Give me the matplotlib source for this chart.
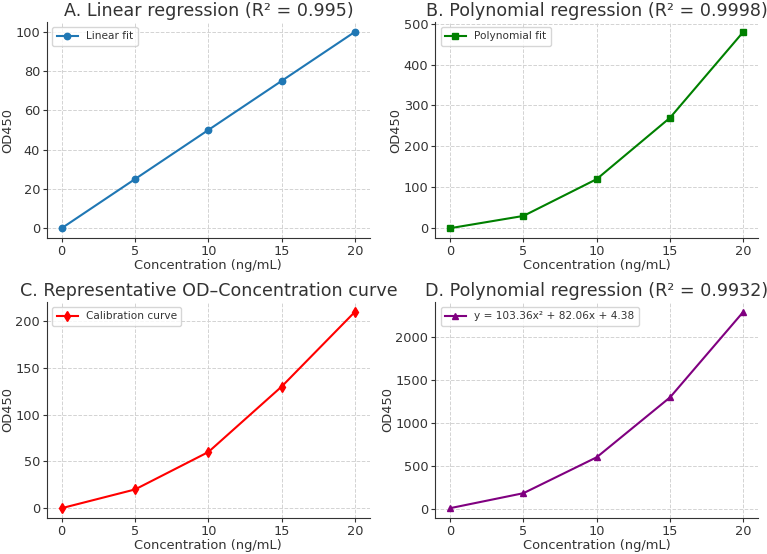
import matplotlib.pyplot as plt

# concentration points (ng/mL)
conc = [0, 5, 10, 15, 20]

# OD450 readings per panel
od_linear = [0, 25, 50, 75, 100]
od_poly = [0, 30, 120, 270, 480]
od_calib = [0, 20, 60, 130, 210]
od_poly2 = [5, 180, 600, 1300, 2300]

titles = [
    "A. Linear regression (R² = 0.995)",
    "B. Polynomial regression (R² = 0.9998)",
    "C. Representative OD–Concentration curve",
    "D. Polynomial regression (R² = 0.9932)",
]
labels = ["Linear fit", "Polynomial fit", "Calibration curve",
          "y = 103.36x² + 82.06x + 4.38"]
colors = ["#1f77b4", "green", "red", "purple"]
markers = ["o", "s", "d", "^"]
series = [od_linear, od_poly, od_calib, od_poly2]

text_col = "#333333"
plt.rcParams["text.color"] = text_col
plt.rcParams["axes.labelcolor"] = text_col
plt.rcParams["xtick.color"] = text_col
plt.rcParams["ytick.color"] = text_col

fig, axes = plt.subplots(2, 2, figsize=(7.67, 5.54), dpi=100)
fig.subplots_adjust(left=0.0613, right=0.9883, top=0.9603, bottom=0.065,
                    wspace=0.204, hspace=0.296)

for ax, y, title, lab, c, m in zip(axes.flat, series, titles, labels, colors, markers):
    ax.plot(conc, y, color=c, marker=m, markersize=4.6, linewidth=1.5, label=lab)
    ax.set_title(title, fontsize=12.6, pad=4)
    ax.set_xlabel("Concentration (ng/mL)", fontsize=9.4, labelpad=1)
    ax.set_ylabel("OD450", fontsize=9.4, labelpad=1)
    ax.set_xticks(conc)
    ax.tick_params(labelsize=9.3, color=text_col, length=3, pad=2)
    ax.grid(True, linestyle="--", color="#d3d3d3", linewidth=0.7)
    for s in ["top", "right"]:
        ax.spines[s].set_visible(False)
    for s in ["left", "bottom"]:
        ax.spines[s].set_color(text_col)
    ax.legend(loc="upper left", fontsize=7.6)

fig.savefig("out.png", dpi=100)
